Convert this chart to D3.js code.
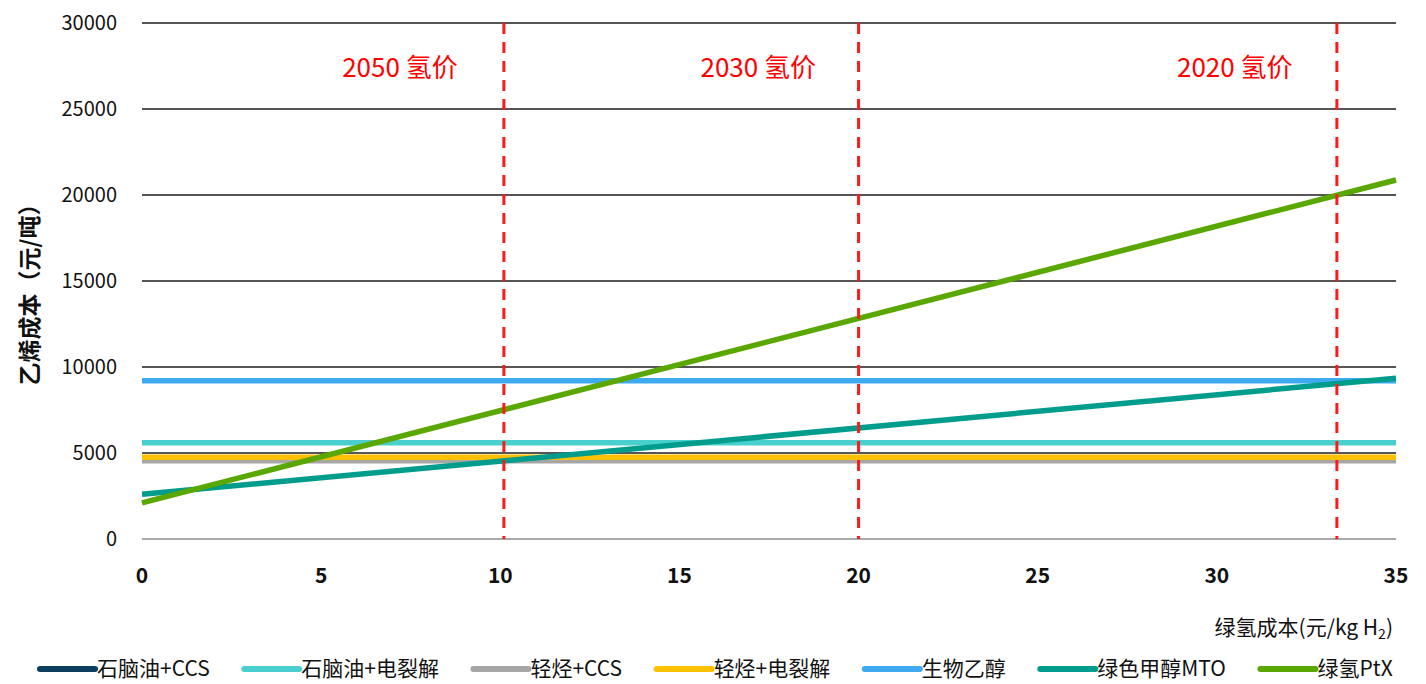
<!DOCTYPE html>
<html>
<head>
<meta charset="utf-8">
<script src="https://cdn.jsdelivr.net/npm/d3@7"></script>
<style>
  body { margin: 0; background: #fff; }
  svg text { font-family: "Noto Sans CJK SC", "Noto Sans", sans-serif; }
</style>
</head>
<body>
<div id="chart"></div>
<script>
// hydrogen cost (yuan/kg H2) at the two ends of the chart
var h2Cost = [0, 35];

// ethylene cost (yuan/t) per route at h2Cost
var naphthaCCS = [4700, 4700];
var naphthaElec = [5600, 5600];
var lightCCS = [4550, 4550];
var lightElec = [4750, 4750];
var bioEthanol = [9200, 9200];
var greenMTO = [2600, 9350];
var greenPtX = [2100, 20870];

var seriesNames = ["石脑油+CCS", "石脑油+电裂解", "轻烃+CCS", "轻烃+电裂解", "生物乙醇", "绿色甲醇MTO", "绿氢PtX"];
var seriesColors = ["#0b3f60", "#4acfcf", "#a6a6a6", "#ffc000", "#3fa9f0", "#009c8c", "#5aa700"];
var seriesValues = [naphthaCCS, naphthaElec, lightCCS, lightElec, bioEthanol, greenMTO, greenPtX];

// hydrogen price markers
var markerX = [10.1, 20.0, 33.35];
var markerLabels = ["2050 氢价", "2030 氢价", "2020 氢价"];
var markerLabelX = [7.2, 17.2, 30.5];

var xTicks = [0, 5, 10, 15, 20, 25, 30, 35];
var yTicks = [0, 5000, 10000, 15000, 20000, 25000, 30000];

var W = 1426, H = 684;
var plotLeft = 142, plotRight = 1396, plotTop = 23, plotBottom = 539;

var svg = d3.select("#chart").append("svg")
  .attr("width", W).attr("height", H);

var x = d3.scaleLinear().domain([0, 35]).range([plotLeft, plotRight]);
var y = d3.scaleLinear().domain([0, 30000]).range([plotBottom, plotTop]);

// grid lines
svg.append("g").selectAll("line").data(yTicks).enter().append("line")
  .attr("x1", plotLeft).attr("x2", plotRight)
  .attr("y1", function(d) { return y(d); })
  .attr("y2", function(d) { return y(d); })
  .attr("stroke", function(d) { return d == 0 ? "#8c8c8c" : "#1e1e1e"; })
  .attr("stroke-width", 1.3);

// y tick labels
svg.append("g").selectAll("text").data(yTicks).enter().append("text")
  .attr("x", 117)
  .attr("y", function(d) { return y(d); })
  .attr("dy", "0.35em")
  .attr("text-anchor", "end")
  .attr("font-size", "20px")
  .attr("fill", "#111")
  .text(function(d) { return d; });

// x tick labels
svg.append("g").selectAll("text").data(xTicks).enter().append("text")
  .attr("x", function(d) { return x(d); })
  .attr("y", 583)
  .attr("text-anchor", "middle")
  .attr("font-size", "21px")
  .attr("font-weight", "bold")
  .attr("fill", "#111")
  .text(function(d) { return d; });

// series lines
var line = d3.line()
  .x(function(d, i) { return x(h2Cost[i]); })
  .y(function(d) { return y(d); });

svg.append("g").selectAll("path").data(seriesValues).enter().append("path")
  .attr("d", function(d) { return line(d); })
  .attr("fill", "none")
  .attr("stroke", function(d, i) { return seriesColors[i]; })
  .attr("stroke-width", 5.5);

// red dashed price markers
svg.append("g").selectAll("line").data(markerX).enter().append("line")
  .attr("x1", function(d) { return x(d); })
  .attr("x2", function(d) { return x(d); })
  .attr("y1", plotTop).attr("y2", plotBottom)
  .attr("stroke", "#ff1a1a")
  .attr("stroke-width", 3)
  .attr("stroke-dasharray", "11,8");

svg.append("g").selectAll("text").data(markerLabels).enter().append("text")
  .attr("x", function(d, i) { return x(markerLabelX[i]); })
  .attr("y", 77)
  .attr("text-anchor", "middle")
  .attr("font-size", "26px")
  .attr("fill", "#ff0000")
  .text(function(d) { return d; });

// y axis title
svg.append("text")
  .attr("transform", "translate(38,289) rotate(-90)")
  .attr("text-anchor", "middle")
  .attr("font-size", "23px")
  .attr("font-weight", "bold")
  .attr("fill", "#111")
  .text("乙烯成本（元/吨）");

// x axis title
var xt = svg.append("text")
  .attr("x", 1393).attr("y", 635)
  .attr("text-anchor", "end")
  .attr("font-size", "21px")
  .attr("fill", "#111");
xt.append("tspan").text("绿氢成本(元/kg H");
xt.append("tspan").attr("font-size", "14px").attr("dy", "4").text("2");
xt.append("tspan").attr("dy", "-4").text(")");

// legend
var legend = svg.append("g");
var lx = 40;
seriesNames.forEach(function(name, i) {
  legend.append("line")
    .attr("x1", lx).attr("x2", lx + 55)
    .attr("y1", 669).attr("y2", 669)
    .attr("stroke", seriesColors[i])
    .attr("stroke-width", 6)
    .attr("stroke-linecap", "round");
  var t = legend.append("text")
    .attr("x", lx + 57).attr("y", 669)
    .attr("dy", "0.35em")
    .attr("font-size", "21px")
    .attr("fill", "#111")
    .text(name);
  lx = lx + 57 + t.node().getComputedTextLength() + 34.5;
});
</script>
</body>
</html>
